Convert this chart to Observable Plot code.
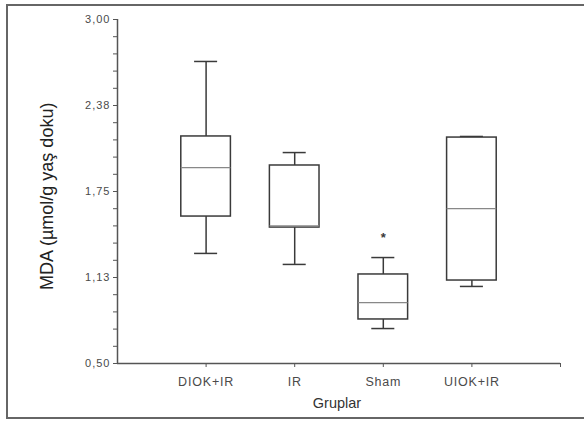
<!DOCTYPE html>
<html>
<head>
<meta charset="utf-8">
<script src="https://cdn.jsdelivr.net/npm/d3@7"></script>
<script src="https://cdn.jsdelivr.net/npm/@observablehq/plot@0.6"></script>
<style>
  html, body { margin: 0; padding: 0; background: #fff; overflow: hidden; }
  #wrap { position: relative; width: 584px; height: 422px; }
  #border { position: absolute; left: 6px; top: 4px; width: 600px; height: 415px; border: 2px solid #666; box-sizing: border-box; }
  #chart { position: absolute; left: 0; top: 0; }
  g[aria-label="y-axis tick label"] text { letter-spacing: 1px; }
  g[aria-label="x-axis tick label"] text { letter-spacing: 0.8px; }
</style>
</head>
<body>
<div id="wrap"><div id="border"></div><div id="chart"></div></div>
<script>
// Data
const groups  = ["DIOK+IR", "IR", "Sham", "UIOK+IR"];
const minVals = [1.30, 1.22, 0.754, 1.06];
const q1Vals  = [1.568, 1.488, 0.82, 1.103];
const medVals = [1.924, 1.50, 0.943, 1.626];
const q3Vals  = [2.15, 1.939, 1.147, 2.142];
const maxVals = [2.695, 2.033, 1.27, 2.15];
const sigMarks = [{group: "Sham", label: "*", y: 1.41}];
const yTickValues = [0.5, 1.125, 1.75, 2.375, 3.0];
const yTickLabels = ["0,50", "1,13", "1,75", "2,38", "3,00"];
const yMinorStep = 0.125;
const yTitle = "MDA (\u00b5mol/g yaş doku)";
const xTitle = "Gruplar";

const boxes = groups.map((g, i) => ({
  g, pos: i + 1, min: minVals[i], q1: q1Vals[i], med: medVals[i], q3: q3Vals[i], max: maxVals[i]
}));
const posOf = Object.fromEntries(groups.map((g, i) => [g, i + 1]));
const bw = 0.28, cw = 0.13;
const ink = "#3a3a3a";
const minorTicks = d3.range(0.5, 3.0001, yMinorStep);
const labelMap = new Map(yTickValues.map((v, i) => [v.toFixed(3), yTickLabels[i]]));

const chart = Plot.plot({
  width: 584, height: 422,
  marginLeft: 117, marginRight: 24, marginTop: 19, marginBottom: 59,
  style: {fontFamily: "Arial, 'Liberation Sans', sans-serif", color: "#4a4a4a", background: "transparent"},
  x: {type: "linear", domain: [0, 5]},
  y: {domain: [0.5, 3.0]},
  marks: [
    Plot.axisY({
      ticks: minorTicks, tickSize: 4, tickPadding: 3, fontSize: 11, stroke: "#555",
      tickFormat: v => labelMap.get(v.toFixed(3)) ?? "",
      label: null
    }),
    Plot.axisX({
      ticks: [1, 2, 3, 4, 5], tickSize: 4, tickPadding: 10, fontSize: 12.5, stroke: "#555",
      tickFormat: v => groups[v - 1] ?? "",
      label: null
    }),
    Plot.text([yTitle], {x: -0.79, y: 1.715, text: d => d, rotate: -90, fontSize: 18, fill: "#222"}),
    Plot.text([xTitle], {frameAnchor: "bottom", text: d => d, dy: 44, dx: -2, fontSize: 14.5, fill: "#333"}),
    Plot.ruleX([0], {y1: 0.5, y2: 3.0, stroke: "#555", strokeWidth: 1.5}),
    Plot.ruleY([0.5], {x1: 0, x2: 5, stroke: "#555", strokeWidth: 1.5}),
    // whiskers
    Plot.ruleX(boxes, {x: "pos", y1: "q3", y2: "max", stroke: ink, strokeWidth: 1.5}),
    Plot.ruleX(boxes, {x: "pos", y1: "min", y2: "q1", stroke: ink, strokeWidth: 1.5}),
    Plot.ruleY(boxes, {y: "max", x1: d => d.pos - cw, x2: d => d.pos + cw, stroke: ink, strokeWidth: 1.5}),
    Plot.ruleY(boxes, {y: "min", x1: d => d.pos - cw, x2: d => d.pos + cw, stroke: ink, strokeWidth: 1.5}),
    // boxes
    Plot.rect(boxes, {x1: d => d.pos - bw, x2: d => d.pos + bw, y1: "q1", y2: "q3", fill: "white", stroke: ink, strokeWidth: 1.5}),
    Plot.ruleY(boxes, {y: "med", x1: d => d.pos - bw, x2: d => d.pos + bw, stroke: "#888", strokeWidth: 1.2}),
    Plot.text(sigMarks, {x: d => posOf[d.group], y: "y", text: "label", fontSize: 13, fill: ink, fontWeight: "bold"})
  ]
});
document.getElementById("chart").append(chart);
</script>
</body>
</html>
